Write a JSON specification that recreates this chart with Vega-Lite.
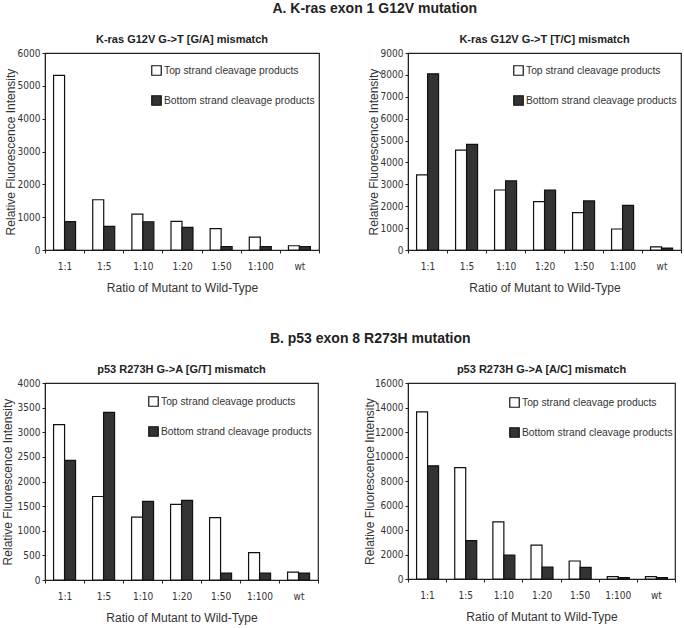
{
  "$schema": "https://vega.github.io/schema/vega-lite/v6.json",
  "background": "white",
  "padding": {"left": 0, "top": 2, "right": 2, "bottom": 2},
  "datasets": {
    "bars": [
      {"panel": "A1", "ratio": "1:1", "strand": "Top strand cleavage products", "value": 5320},
      {"panel": "A1", "ratio": "1:5", "strand": "Top strand cleavage products", "value": 1530},
      {"panel": "A1", "ratio": "1:10", "strand": "Top strand cleavage products", "value": 1090},
      {"panel": "A1", "ratio": "1:20", "strand": "Top strand cleavage products", "value": 870},
      {"panel": "A1", "ratio": "1:50", "strand": "Top strand cleavage products", "value": 650},
      {"panel": "A1", "ratio": "1:100", "strand": "Top strand cleavage products", "value": 390},
      {"panel": "A1", "ratio": "wt", "strand": "Top strand cleavage products", "value": 130},
      {"panel": "A1", "ratio": "1:1", "strand": "Bottom strand cleavage products", "value": 865},
      {"panel": "A1", "ratio": "1:5", "strand": "Bottom strand cleavage products", "value": 720},
      {"panel": "A1", "ratio": "1:10", "strand": "Bottom strand cleavage products", "value": 860},
      {"panel": "A1", "ratio": "1:20", "strand": "Bottom strand cleavage products", "value": 690},
      {"panel": "A1", "ratio": "1:50", "strand": "Bottom strand cleavage products", "value": 100},
      {"panel": "A1", "ratio": "1:100", "strand": "Bottom strand cleavage products", "value": 100},
      {"panel": "A1", "ratio": "wt", "strand": "Bottom strand cleavage products", "value": 100},
      {"panel": "A2", "ratio": "1:1", "strand": "Top strand cleavage products", "value": 3430},
      {"panel": "A2", "ratio": "1:5", "strand": "Top strand cleavage products", "value": 4560},
      {"panel": "A2", "ratio": "1:10", "strand": "Top strand cleavage products", "value": 2740},
      {"panel": "A2", "ratio": "1:20", "strand": "Top strand cleavage products", "value": 2210},
      {"panel": "A2", "ratio": "1:50", "strand": "Top strand cleavage products", "value": 1710},
      {"panel": "A2", "ratio": "1:100", "strand": "Top strand cleavage products", "value": 960},
      {"panel": "A2", "ratio": "wt", "strand": "Top strand cleavage products", "value": 140},
      {"panel": "A2", "ratio": "1:1", "strand": "Bottom strand cleavage products", "value": 8050},
      {"panel": "A2", "ratio": "1:5", "strand": "Bottom strand cleavage products", "value": 4830},
      {"panel": "A2", "ratio": "1:10", "strand": "Bottom strand cleavage products", "value": 3160},
      {"panel": "A2", "ratio": "1:20", "strand": "Bottom strand cleavage products", "value": 2740},
      {"panel": "A2", "ratio": "1:50", "strand": "Bottom strand cleavage products", "value": 2240},
      {"panel": "A2", "ratio": "1:100", "strand": "Bottom strand cleavage products", "value": 2040},
      {"panel": "A2", "ratio": "wt", "strand": "Bottom strand cleavage products", "value": 90},
      {"panel": "B1", "ratio": "1:1", "strand": "Top strand cleavage products", "value": 3155},
      {"panel": "B1", "ratio": "1:5", "strand": "Top strand cleavage products", "value": 1695},
      {"panel": "B1", "ratio": "1:10", "strand": "Top strand cleavage products", "value": 1275},
      {"panel": "B1", "ratio": "1:20", "strand": "Top strand cleavage products", "value": 1535},
      {"panel": "B1", "ratio": "1:50", "strand": "Top strand cleavage products", "value": 1265},
      {"panel": "B1", "ratio": "1:100", "strand": "Top strand cleavage products", "value": 555},
      {"panel": "B1", "ratio": "wt", "strand": "Top strand cleavage products", "value": 160},
      {"panel": "B1", "ratio": "1:1", "strand": "Bottom strand cleavage products", "value": 2430},
      {"panel": "B1", "ratio": "1:5", "strand": "Bottom strand cleavage products", "value": 3405},
      {"panel": "B1", "ratio": "1:10", "strand": "Bottom strand cleavage products", "value": 1595},
      {"panel": "B1", "ratio": "1:20", "strand": "Bottom strand cleavage products", "value": 1615},
      {"panel": "B1", "ratio": "1:50", "strand": "Bottom strand cleavage products", "value": 140},
      {"panel": "B1", "ratio": "1:100", "strand": "Bottom strand cleavage products", "value": 140},
      {"panel": "B1", "ratio": "wt", "strand": "Bottom strand cleavage products", "value": 140},
      {"panel": "B2", "ratio": "1:1", "strand": "Top strand cleavage products", "value": 13640},
      {"panel": "B2", "ratio": "1:5", "strand": "Top strand cleavage products", "value": 9100},
      {"panel": "B2", "ratio": "1:10", "strand": "Top strand cleavage products", "value": 4670},
      {"panel": "B2", "ratio": "1:20", "strand": "Top strand cleavage products", "value": 2770},
      {"panel": "B2", "ratio": "1:50", "strand": "Top strand cleavage products", "value": 1470},
      {"panel": "B2", "ratio": "1:100", "strand": "Top strand cleavage products", "value": 190},
      {"panel": "B2", "ratio": "wt", "strand": "Top strand cleavage products", "value": 190},
      {"panel": "B2", "ratio": "1:1", "strand": "Bottom strand cleavage products", "value": 9240},
      {"panel": "B2", "ratio": "1:5", "strand": "Bottom strand cleavage products", "value": 3125},
      {"panel": "B2", "ratio": "1:10", "strand": "Bottom strand cleavage products", "value": 1960},
      {"panel": "B2", "ratio": "1:20", "strand": "Bottom strand cleavage products", "value": 980},
      {"panel": "B2", "ratio": "1:50", "strand": "Bottom strand cleavage products", "value": 950},
      {"panel": "B2", "ratio": "1:100", "strand": "Bottom strand cleavage products", "value": 110},
      {"panel": "B2", "ratio": "wt", "strand": "Bottom strand cleavage products", "value": 110}
    ]
  },
  "config": {
    "view": {"stroke": "#222", "strokeWidth": 1.2},
    "font": "Liberation Sans",
    "axis": {
      "labelFont": "DejaVu Sans Condensed, Liberation Sans",
      "labelFontSize": 10,
      "labelColor": "#333",
      "titleFont": "Liberation Sans",
      "titleFontSize": 12,
      "titleFontWeight": "normal",
      "titleColor": "#333",
      "domainColor": "#222",
      "tickColor": "#222",
      "grid": false,
      "tickSize": 3
    },
    "axisX": {"labelAngle": 0, "tickBand": "extent", "labelPadding": 8, "titlePadding": 11},
    "axisY": {"titlePadding": 1, "labelPadding": 2, "format": "d", "minExtent": 27, "maxExtent": 27},
    "title": {"font": "Liberation Sans", "fontWeight": "bold", "fontSize": 11, "color": "#222", "offset": 3},
    "legend": {
      "title": null,
      "orient": "none",
      "labelFont": "Liberation Sans",
      "labelFontSize": 10.3,
      "labelColor": "#333",
      "symbolType": "square",
      "symbolSize": 90,
      "symbolStrokeColor": "#111",
      "symbolStrokeWidth": 1.2,
      "symbolOpacity": 1,
      "rowPadding": 15,
      "labelOffset": 2
    },
    "bar": {"stroke": "#111", "strokeWidth": 1.2}
  },
  "resolve": {"scale": {"color": "independent"}, "legend": {"color": "independent"}},
  "spacing": 38,
  "vconcat": [
    {
      "title": {"text": "A. K-ras exon 1 G12V mutation", "fontSize": 14, "anchor": "middle", "dx": 32, "offset": 17},
      "spacing": 45,
      "resolve": {"scale": {"color": "independent"}, "legend": {"color": "independent"}},
      "hconcat": [
        {
          "width": 274, "height": 197,
          "title": "K-ras G12V G->T [G/A] mismatch",
          "data": {"name": "bars"},
          "transform": [{"filter": "datum.panel === 'A1'"}],
          "mark": "bar",
          "encoding": {
            "x": {"field": "ratio", "type": "nominal", "sort": ["1:1", "1:5", "1:10", "1:20", "1:50", "1:100", "wt"], "scale": {"paddingInner": 0, "paddingOuter": 0}, "title": "Ratio of Mutant to Wild-Type"},
            "xOffset": {"field": "strand", "type": "nominal", "sort": ["Top strand cleavage products", "Bottom strand cleavage products"], "scale": {"paddingInner": 0, "paddingOuter": 0.78}},
            "y": {"field": "value", "type": "quantitative", "scale": {"domain": [0, 6000]}, "axis": {"values": [0, 1000, 2000, 3000, 4000, 5000, 6000]}, "title": "Relative Fluorescence Intensity"},
            "color": {"field": "strand", "type": "nominal", "sort": ["Top strand cleavage products", "Bottom strand cleavage products"], "scale": {"domain": ["Top strand cleavage products", "Bottom strand cleavage products"], "range": ["#ffffff", "#333333"]}, "legend": {"legendX": 106, "legendY": 12}}
          }
        },
        {
          "width": 273, "height": 197,
          "title": "K-ras G12V G->T [T/C] mismatch",
          "data": {"name": "bars"},
          "transform": [{"filter": "datum.panel === 'A2'"}],
          "mark": "bar",
          "encoding": {
            "x": {"field": "ratio", "type": "nominal", "sort": ["1:1", "1:5", "1:10", "1:20", "1:50", "1:100", "wt"], "scale": {"paddingInner": 0, "paddingOuter": 0}, "title": "Ratio of Mutant to Wild-Type"},
            "xOffset": {"field": "strand", "type": "nominal", "sort": ["Top strand cleavage products", "Bottom strand cleavage products"], "scale": {"paddingInner": 0, "paddingOuter": 0.78}},
            "y": {"field": "value", "type": "quantitative", "scale": {"domain": [0, 9000]}, "axis": {"values": [0, 1000, 2000, 3000, 4000, 5000, 6000, 7000, 8000, 9000]}, "title": "Relative Fluorescence Intensity"},
            "color": {"field": "strand", "type": "nominal", "sort": ["Top strand cleavage products", "Bottom strand cleavage products"], "scale": {"domain": ["Top strand cleavage products", "Bottom strand cleavage products"], "range": ["#ffffff", "#333333"]}, "legend": {"legendX": 105, "legendY": 12}}
          }
        }
      ]
    },
    {
      "title": {"text": "B. p53 exon 8 R273H mutation", "fontSize": 14, "anchor": "middle", "dx": 32, "offset": 17},
      "spacing": 42,
      "resolve": {"scale": {"color": "independent"}, "legend": {"color": "independent"}},
      "hconcat": [
        {
          "width": 273, "height": 197,
          "title": "p53 R273H G->A [G/T] mismatch",
          "data": {"name": "bars"},
          "transform": [{"filter": "datum.panel === 'B1'"}],
          "mark": "bar",
          "encoding": {
            "x": {"field": "ratio", "type": "nominal", "sort": ["1:1", "1:5", "1:10", "1:20", "1:50", "1:100", "wt"], "scale": {"paddingInner": 0, "paddingOuter": 0}, "title": "Ratio of Mutant to Wild-Type"},
            "xOffset": {"field": "strand", "type": "nominal", "sort": ["Top strand cleavage products", "Bottom strand cleavage products"], "scale": {"paddingInner": 0, "paddingOuter": 0.78}},
            "y": {"field": "value", "type": "quantitative", "scale": {"domain": [0, 4000]}, "axis": {"values": [0, 500, 1000, 1500, 2000, 2500, 3000, 3500, 4000], "titlePadding": 4}, "title": "Relative Fluorescence Intensity"},
            "color": {"field": "strand", "type": "nominal", "sort": ["Top strand cleavage products", "Bottom strand cleavage products"], "scale": {"domain": ["Top strand cleavage products", "Bottom strand cleavage products"], "range": ["#ffffff", "#333333"]}, "legend": {"legendX": 103, "legendY": 13}}
          }
        },
        {
          "width": 267, "height": 196,
          "title": "p53 R273H G->A [A/C] mismatch",
          "data": {"name": "bars"},
          "transform": [{"filter": "datum.panel === 'B2'"}],
          "mark": "bar",
          "encoding": {
            "x": {"field": "ratio", "type": "nominal", "sort": ["1:1", "1:5", "1:10", "1:20", "1:50", "1:100", "wt"], "scale": {"paddingInner": 0, "paddingOuter": 0}, "title": "Ratio of Mutant to Wild-Type"},
            "xOffset": {"field": "strand", "type": "nominal", "sort": ["Top strand cleavage products", "Bottom strand cleavage products"], "scale": {"paddingInner": 0, "paddingOuter": 0.78}},
            "y": {"field": "value", "type": "quantitative", "scale": {"domain": [0, 16000]}, "axis": {"values": [0, 2000, 4000, 6000, 8000, 10000, 12000, 14000, 16000], "titlePadding": 0, "minExtent": 32, "maxExtent": 32}, "title": "Relative Fluorescence Intensity"},
            "color": {"field": "strand", "type": "nominal", "sort": ["Top strand cleavage products", "Bottom strand cleavage products"], "scale": {"domain": ["Top strand cleavage products", "Bottom strand cleavage products"], "range": ["#ffffff", "#333333"]}, "legend": {"legendX": 101, "legendY": 14}}
          }
        }
      ]
    }
  ]
}
